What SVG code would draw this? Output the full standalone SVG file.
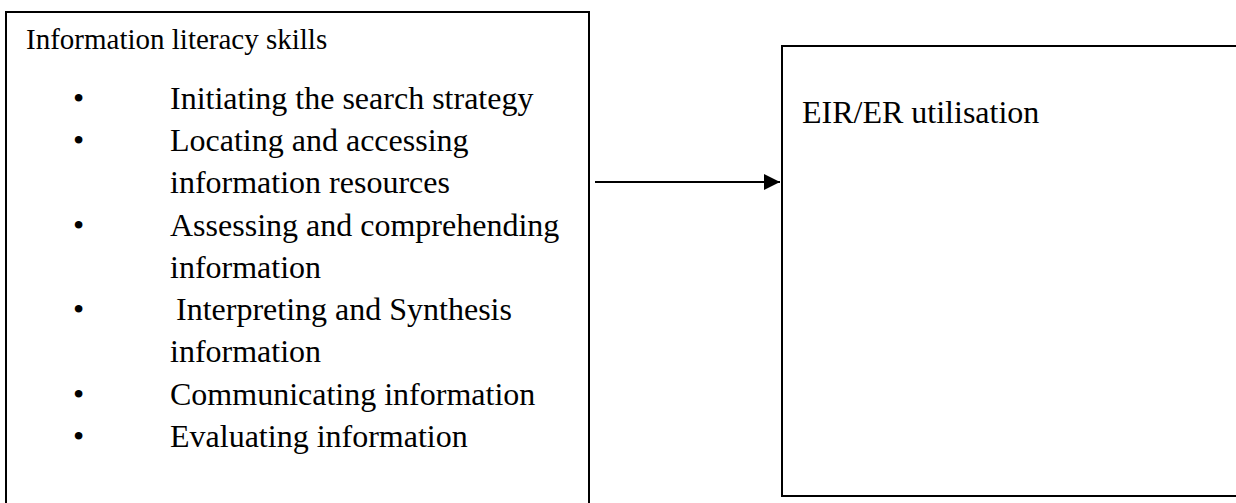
<svg xmlns="http://www.w3.org/2000/svg" width="1236" height="503" viewBox="0 0 1236 503">
  <style>
    .box { fill: #ffffff; stroke: #000000; stroke-width: 2; }
    .title { font-family: "Liberation Serif", "Times New Roman", serif; font-size: 29px; fill: #000; }
    .item { font-family: "Liberation Serif", "Times New Roman", serif; font-size: 32px; fill: #000; }
    .link { stroke: #000; stroke-width: 2; fill: none; }
  </style>
  <defs>
    <marker id="arrow" viewBox="0 0 16 16" refX="16" refY="8" markerWidth="16" markerHeight="16" markerUnits="userSpaceOnUse" orient="auto">
      <path d="M0,0 L16,8 L0,16 Z" fill="#000"/>
    </marker>
  </defs>
  <rect width="1236" height="503" fill="#ffffff"/>

  <!-- Skills box -->
  <g id="node-skills">
    <rect class="box" x="6" y="12" width="583" height="500"/>
    <text class="title" x="26" y="49">Information literacy skills</text>
    <g class="item">
      <text x="73" y="109">•</text>
      <text x="170" y="109">Initiating the search strategy</text>
      <text x="73" y="151">•</text>
      <text x="170" y="151">Locating and accessing</text>
      <text x="170" y="193">information resources</text>
      <text x="73" y="236">•</text>
      <text x="170" y="236">Assessing and comprehending</text>
      <text x="170" y="278">information</text>
      <text x="73" y="320">•</text>
      <text x="176" y="320">Interpreting and Synthesis</text>
      <text x="170" y="362">information</text>
      <text x="73" y="405">•</text>
      <text x="170" y="405">Communicating information</text>
      <text x="73" y="447">•</text>
      <text x="170" y="447">Evaluating information</text>
    </g>
  </g>

  <!-- Utilisation box -->
  <g id="node-utilisation">
    <rect class="box" x="782" y="46" width="470" height="450"/>
    <text class="item" x="802" y="123">EIR/ER utilisation</text>
  </g>

  <!-- Connector -->
  <g id="connectors">
    <line class="link" x1="595" y1="182" x2="780" y2="182" marker-end="url(#arrow)"/>
  </g>
</svg>
